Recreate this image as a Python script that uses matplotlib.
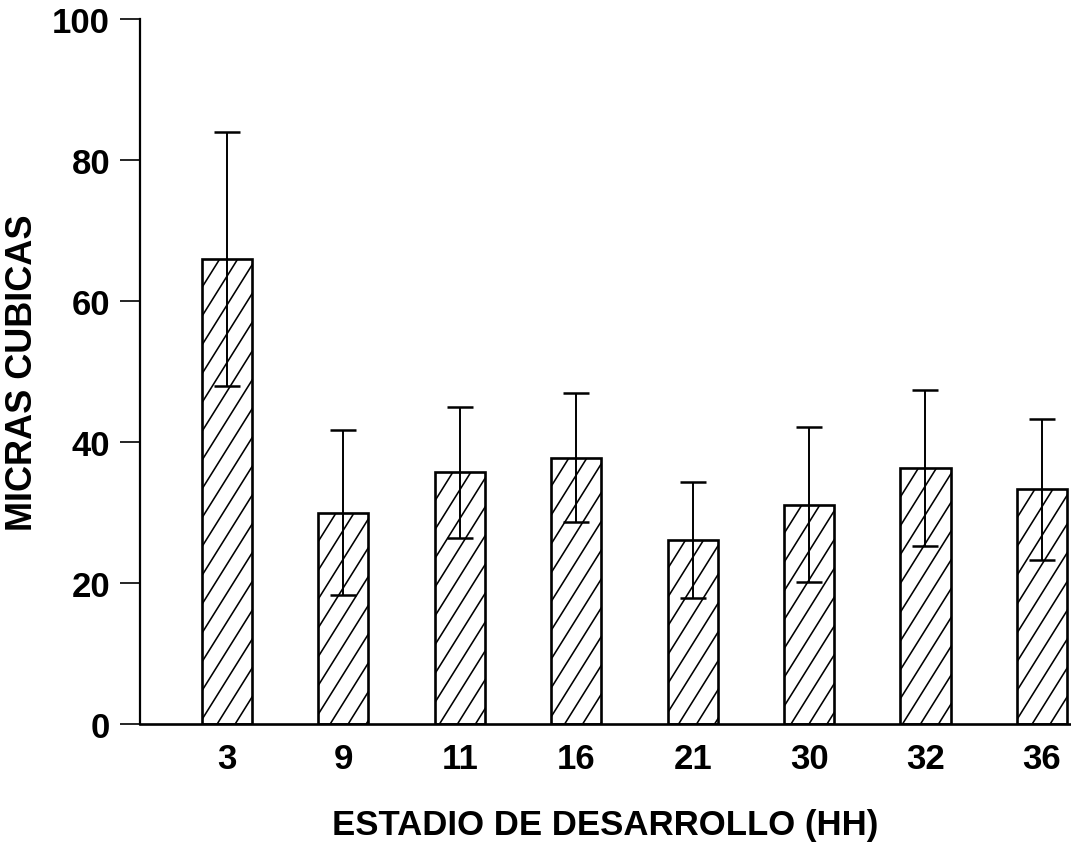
import numpy as np
import matplotlib
matplotlib.use('Agg')
import matplotlib.pyplot as plt
from matplotlib.collections import LineCollection

plt.rcParams['font.family'] = ['Liberation Sans', 'DejaVu Sans']

# data
stages = ['3', '9', '11', '16', '21', '30', '32', '36']
volume = [66.0, 30.0, 35.7, 37.8, 26.1, 31.1, 36.3, 33.3]
sd = [18.0, 11.7, 9.3, 9.1, 8.2, 11.0, 11.1, 10.0]

fig = plt.figure(figsize=(10.71, 8.45), dpi=100)
ax = fig.add_axes([0.1307, 0.142, 0.8693, 0.8343])
ax.set_xlim(-0.747, 7.25)
ax.set_ylim(0, 100)

x = np.arange(len(stages))
bars = ax.bar(x, volume, width=0.43, color='white', edgecolor='black',
              linewidth=1.9, zorder=2)

# steep diagonal hatching (the built-in hatch is only 45 degrees)
(px0, py0), (px1, py1) = ax.transData.transform([(0, 0), (1, 1)])
ux, uy = px1 - px0, py1 - py0          # pixels per data unit
step = 18.0 / ux                       # horizontal spacing of hatch lines
slope = np.tan(np.radians(58)) * ux / uy
for b in bars:
    x0, w, h = b.get_x(), b.get_width(), b.get_height()
    segs = []
    c = x0 - h / slope
    while c < x0 + w:
        segs.append([(c, 0), (c + h / slope, h)])
        c += step
    lc = LineCollection(segs, colors='black', linewidths=1.15, zorder=2.5)
    ax.add_collection(lc)
    lc.set_clip_path(b)

ax.errorbar(x, volume, yerr=sd, fmt='none', ecolor='black',
            elinewidth=1.4, capsize=9.5, capthick=1.8, zorder=3)

ax.set_xticks(x)
ax.set_xticklabels(stages)
ax.set_yticks([0, 20, 40, 60, 80, 100])

for side in ['top', 'right']:
    ax.spines[side].set_visible(False)
ax.spines['left'].set_linewidth(1.6)
ax.spines['bottom'].set_linewidth(1.9)

ax.tick_params(axis='x', length=0, pad=13, labelsize=25)
ax.tick_params(axis='y', direction='out', length=14.5, width=1.2,
               pad=7, labelsize=25)
for lab in ax.get_xticklabels() + ax.get_yticklabels():
    lab.set_fontweight('bold')

ax.set_xlabel('ESTADIO DE DESARROLLO (HH)', fontsize=25, fontweight='bold',
              labelpad=24)
ax.set_ylabel('MICRAS CUBICAS', fontsize=26, fontweight='bold')
ax.yaxis.set_label_coords(-0.107, 0.5)

fig.savefig('out.png', dpi=100)
